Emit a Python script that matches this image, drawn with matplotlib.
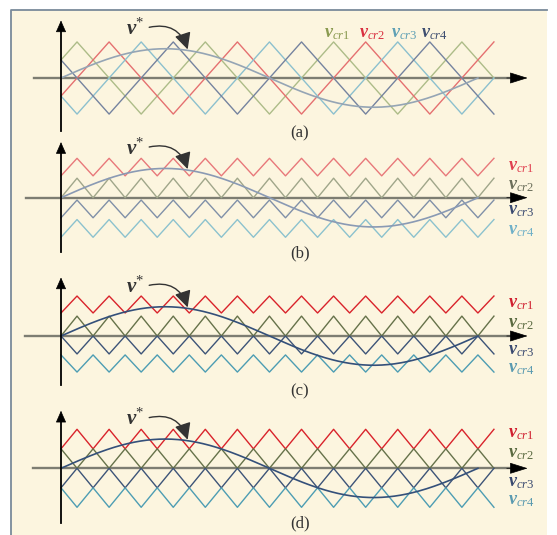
import numpy as np
import matplotlib
matplotlib.use('Agg')
import matplotlib.pyplot as plt
from matplotlib.patches import Rectangle
from matplotlib.lines import Line2D

plt.rcParams['mathtext.fontset'] = 'custom'
plt.rcParams['mathtext.rm'] = 'Liberation Serif'
plt.rcParams['mathtext.it'] = 'Liberation Serif:italic'
plt.rcParams['mathtext.bf'] = 'Liberation Serif:italic:bold'

# time in units of one level-shifted carrier period
span = 13.5          # carriers run from 0 to span
ref_period = 13.0    # reference sine period
ref_amp = 1.5

captions = ['(a)', '(b)', '(c)', '(d)']
names = ['cr1', 'cr2', 'cr3', 'cr4']

# per panel: carrier period, time of first peak, lower and upper level of each carrier
periods = [4.0, 1.0, 1.0, 1.0]
peaks = [[0.5, 1.5, 2.5, 3.5],
         [0.5, 0.5, 0.5, 0.5],
         [0.5, 0.5, 0.0, 0.0],
         [0.5, 0.0, 0.5, 0.0]]
lows = [[-1.85, -1.85, -1.85, -1.85],
        [1.12, 0.0, -1.03, -2.03],
        [1.18, 0.0, -0.92, -1.85],
        [1.0, 0.0, -1.0, -2.0]]
highs = [[1.85, 1.85, 1.85, 1.85],
         [2.02, 1.0, -0.12, -1.12],
         [2.05, 1.02, 0.0, -0.97],
         [2.0, 1.0, 0.0, -1.0]]

carrier_colors = [['#adbc88', '#e57070', '#8cc0ce', '#75839f'],
                  ['#e8787a', '#a0a68a', '#8090a8', '#8cc2ce'],
                  ['#d9232b', '#66724a', '#3d5478', '#4d9db3'],
                  ['#d9232b', '#66724a', '#3d5478', '#4d9db3']]
label_colors = [['#8a9a50', '#d93040', '#5fa0b5', '#3e4e70'],
                ['#e04050', '#6b6e5a', '#3a4a70', '#6fb0c8'],
                ['#d02030', '#5a6a40', '#3a4a70', '#5a9ab0'],
                ['#d02030', '#5a6a40', '#3a4a70', '#5a9ab0']]
sine_colors = ['#95a5b5', '#8a9ab4', '#34507a', '#34507a']

# layout in pixels (figure 557 x 535)
W, H = 557, 535
x0_px, xunit = 61, 32.07
yunit = 19.5
axis_y_px = [78, 197.7, 336, 468.3]
label_y = [[], [1.65, 0.65, -0.62, -1.65], [1.7, 0.67, -0.72, -1.65], [1.82, 0.78, -0.72, -1.62]]
yaxis_span = [(-2.7, 2.95), (-2.8, 2.85), (-2.5, 3.0), (-2.8, 2.95)]
xaxis_start = [-0.85, -1.1, -1.12, -0.87]

bg = '#fcf5df'
fig = plt.figure(figsize=(W / 100, H / 100), dpi=100)
fig.patches.append(Rectangle((11 / W, 0), 536 / W, 1 - 10 / H, transform=fig.transFigure,
                             facecolor=bg, edgecolor='none', zorder=-1))
fig.lines.append(Line2D([11 / W, 11 / W, 547 / W], [0, 1 - 10 / H, 1 - 10 / H],
                        transform=fig.transFigure, color='#7a8a9a', lw=1.3))


def tri_wave(period, peak, low, high):
    t = np.concatenate([[0, span], np.arange(peak - period, span + period, period / 2)])
    t = np.unique(t[(t >= 0) & (t <= span)])
    u = np.mod((t - peak) / period, 1.0)
    d = np.minimum(u, 1 - u)
    return t, high - (high - low) * 2 * d


for i in range(4):
    cy = axis_y_px[i]
    left, right = 15, 548
    ax = fig.add_axes([left / W, 1 - (cy + 62) / H, (right - left) / W, 124 / H])
    ax.set_xlim((left - x0_px) / xunit, (right - x0_px) / xunit)
    ax.set_ylim(-62 / yunit, 62 / yunit)
    ax.axis('off')

    # axes lines
    ax.plot([xaxis_start[i], 14.0], [0, 0], color='#7d7d72', lw=1.7, zorder=1)
    ax.annotate('', xy=(14.55, 0), xytext=(13.9, 0),
                arrowprops=dict(arrowstyle='-|>,head_length=1.15,head_width=0.36',
                                color='black', lw=0.5, shrinkA=0, shrinkB=0))
    yb, yt = yaxis_span[i]
    ax.plot([0, 0], [yb, yt - 0.4], color='black', lw=1.3, zorder=5)
    ax.annotate('', xy=(0, yt), xytext=(0, yt - 0.5),
                arrowprops=dict(arrowstyle='-|>,head_length=0.75,head_width=0.33',
                                color='black', lw=0.5, shrinkA=0, shrinkB=0))

    # carriers
    for k in range(4):
        t, v = tri_wave(periods[i], peaks[i][k], lows[i][k], highs[i][k])
        ax.plot(t, v, color=carrier_colors[i][k], lw=1.0, zorder=3)

    # reference
    ts = np.linspace(0, ref_period, 400)
    ax.plot(ts, ref_amp * np.sin(2 * np.pi * ts / ref_period), color=sine_colors[i],
            lw=1.2, zorder=4)

    # v* label with curved arrow
    ax.text(2.3, 2.55, r'$\mathbf{v}^{*}$', fontsize=15, color='#333333',
            ha='center', va='center')
    tip_x = 3.95
    tip_y = ref_amp * np.sin(2 * np.pi * tip_x / ref_period)
    ax.annotate('', xy=(tip_x, tip_y + 0.05), xytext=(2.75, 2.6),
                arrowprops=dict(arrowstyle='-|>,head_length=1.0,head_width=0.5',
                                connectionstyle='arc3,rad=-0.45', color='#333333',
                                lw=1.0, shrinkA=0, shrinkB=0))

    # caption
    ax.text(7.45, -2.85, captions[i], fontsize=12, family='Liberation Serif',
            color='#333333', ha='center', va='center')

    # carrier labels
    if i == 0:
        xs = [8.6, 9.7, 10.7, 11.65]
        for k in range(4):
            ax.text(xs[k], 2.3, r'$\mathbf{v}_{%s}$' % names[k], fontsize=13,
                    color=label_colors[i][k], ha='center', va='center')
    else:
        for k in range(4):
            ax.text(13.95, label_y[i][k], r'$\mathbf{v}_{%s}$' % names[k], fontsize=13,
                    color=label_colors[i][k], ha='left', va='center')

fig.savefig('out.png', dpi=100, facecolor='white')
